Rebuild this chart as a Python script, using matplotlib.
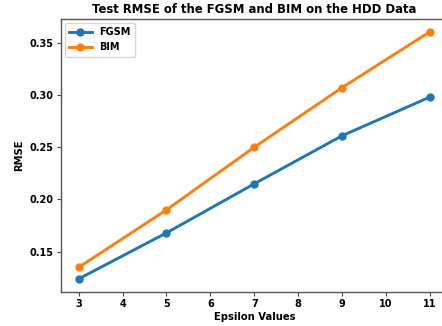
import matplotlib
matplotlib.use("Agg")
import matplotlib.pyplot as plt

epsilons = [3, 5, 7, 9, 11]
fgsm_rmse = [0.124, 0.168, 0.215, 0.261, 0.298]
bim_rmse = [0.135, 0.190, 0.250, 0.307, 0.3605]

plt.rcParams["font.weight"] = "bold"
plt.rcParams["axes.labelweight"] = "bold"
plt.rcParams["axes.titleweight"] = "bold"

fig = plt.figure(figsize=(4.42, 3.26), dpi=100)
W, H = 442, 326
ax = fig.add_axes([61 / W, (H - 292) / H, (447.6 - 61) / W, (292 - 19) / H])

ax.plot(epsilons, fgsm_rmse, marker="o", lw=2.1, ms=5, color="#1f77b4", label="FGSM")
ax.plot(epsilons, bim_rmse, marker="o", lw=2.1, ms=5, color="#ff7f0e", label="BIM")

ax.set_xticks(range(3, 12))
ax.set_yticks([0.15, 0.20, 0.25, 0.30, 0.35])
ax.set_xlim(2.6, 11.4)
ax.set_ylim(0.1115, 0.3726)
ax.tick_params(labelsize=7, length=2.8, width=0.8, color="#444444", pad=2.5)
for s in ax.spines.values():
    s.set_linewidth(1.0)
    s.set_color("#555555")

ax.set_xlabel("Epsilon Values", fontsize=7.2, labelpad=2)
ax.set_ylabel("RMSE", fontsize=7.2, labelpad=4)
ax.set_title("Test RMSE of the FGSM and BIM on the HDD Data", fontsize=8.4, pad=4)
ax.legend(loc="upper left", fontsize=7, handlelength=2.3, borderpad=0.45,
          labelspacing=0.5, borderaxespad=0.4)

fig.savefig("out.png", dpi=100)
